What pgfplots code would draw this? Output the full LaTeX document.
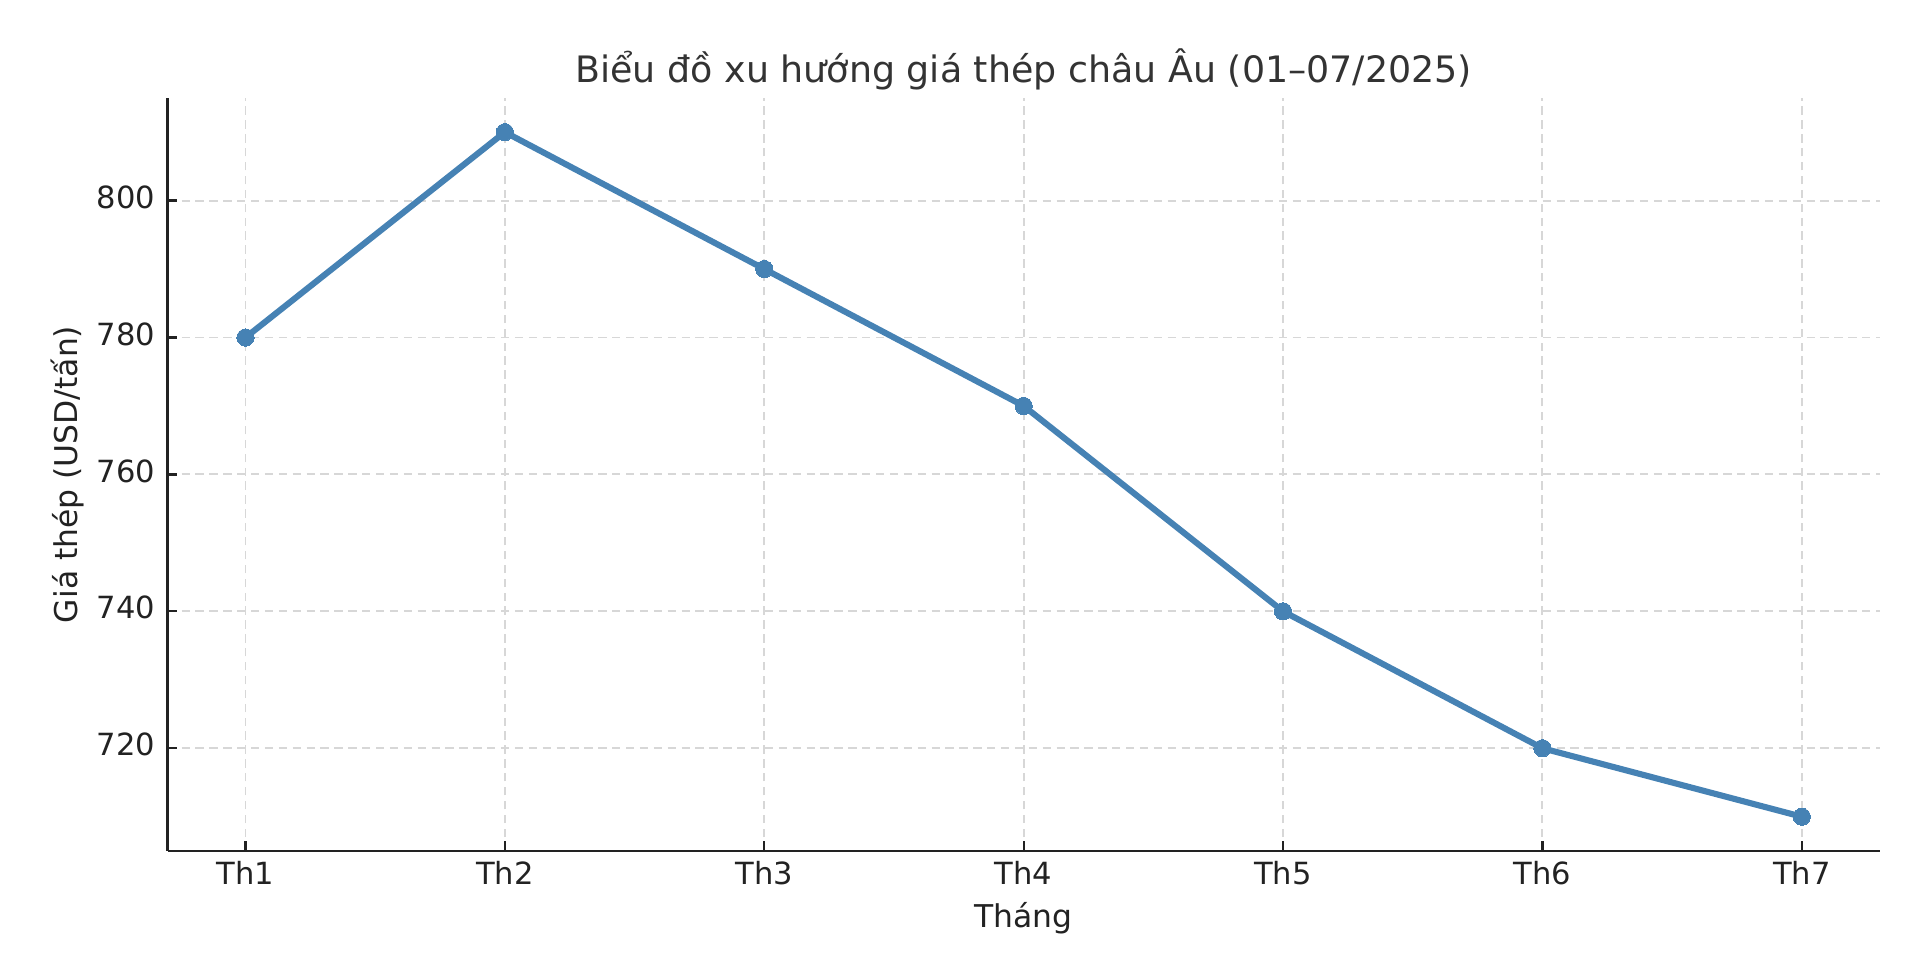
\documentclass[border=0pt]{standalone}
\usepackage{pgfplots}
\pgfplotsset{compat=1.18}
\usepackage{fontspec}
\setmainfont{DejaVu Sans}

\definecolor{steel}{RGB}{70,130,180}
\definecolor{gridgray}{RGB}{215,215,215}
\definecolor{spine}{RGB}{34,34,34}
\definecolor{titlegray}{RGB}{51,51,51}

\pgfplotstableread{
x y
0 780
1 810
2 790
3 770
4 740
5 720
6 710
}\prices

\begin{document}
\begin{tikzpicture}
\begin{axis}[
    scale only axis,
    width=616.3pt, height=271.1pt,
    xmin=-0.3, xmax=6.3,
    ymin=705, ymax=815,
    xtick={0,...,6},
    xticklabels={Th1,Th2,Th3,Th4,Th5,Th6,Th7},
    ytick={720,740,760,780,800},
    axis x line*=bottom, axis y line*=left,
    axis line style={-, spine, line width=1pt},
    tick align=inside,
    major tick length=3.5pt,
    tick style={spine, line width=0.8pt},
    grid=major,
    major grid style={gridgray, line width=0.7pt, dash pattern=on 3pt off 2pt},
    /pgf/number format/assume math mode=true,
    /pgf/number format/1000 sep={},
    ticklabel style={font=\fontsize{11}{13}\selectfont, text=spine, inner sep=0pt},
    xticklabel style={anchor=base, yshift=-12pt},
    yticklabel style={anchor=mid east, xshift=-4.3pt},
    title={Biểu đồ xu hướng giá thép châu Âu (01–07/2025)},
    title style={at={(0.5,1)}, anchor=base, yshift=-0.6pt, inner sep=0pt,
        font=\fontsize{13.1}{15}\selectfont, text=titlegray},
    xlabel={Tháng},
    ylabel={Giá thép (USD/tấn)},
    label style={font=\fontsize{11.3}{13}\selectfont, text=spine, inner sep=0pt},
    xlabel style={at={(axis description cs:0.5,0)}, anchor=base, yshift=-27.7pt},
    ylabel style={at={(axis description cs:-0.0527,0.5)}, anchor=base},
]
\addplot[steel, line width=2.2pt, mark=*, mark size=3.1pt,
    mark options={fill=steel, draw=steel, line width=0pt}] table[x=x, y=y] {\prices};
\end{axis}
\pgfresetboundingbox
\path[use as bounding box] ([xshift=-60.37pt, yshift=-41.76pt]current axis.south west)
    rectangle ++(691.2pt, 348.1pt);
\end{tikzpicture}
\end{document}
